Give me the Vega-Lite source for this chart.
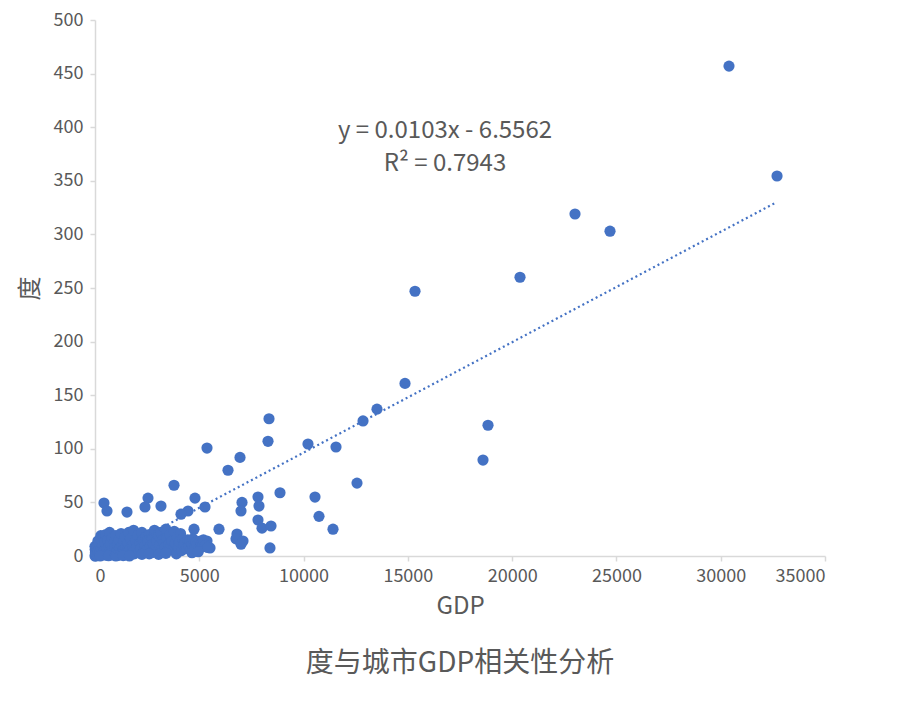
{
  "$schema": "https://vega.github.io/schema/vega-lite/v6.json",
  "width": 730,
  "height": 536,
  "autosize": {"type": "none"},
  "padding": {"left": 95, "top": 20, "right": 81, "bottom": 161},
  "background": "white",
  "config": {
    "view": {"stroke": null},
    "font": "Noto Sans CJK SC",
    "axis": {
      "grid": false,
      "domainColor": "#d9d9d9",
      "domainWidth": 1.5,
      "tickColor": "#d9d9d9",
      "tickWidth": 1.5,
      "tickSize": 5,
      "labelColor": "#595959",
      "labelFontSize": 18,
      "labelFont": "Noto Sans CJK SC",
      "titleColor": "#595959",
      "titleFontWeight": "normal",
      "titleFont": "Noto Sans CJK SC"
    }
  },
  "title": {
    "text": "度与城市GDP相关性分析",
    "orient": "bottom",
    "anchor": "middle",
    "fontSize": 28,
    "fontWeight": "normal",
    "color": "#595959",
    "offset": 32,
    "font": "Noto Sans CJK SC"
  },
  "datasets": {
    "points": [
      {"gdp": 30397, "du": 457}, {"gdp": 32700, "du": 354.5}, {"gdp": 23014, "du": 319}, {"gdp": 24692, "du": 303},
      {"gdp": 20377, "du": 260}, {"gdp": 15343, "du": 247}, {"gdp": 14863, "du": 161}, {"gdp": 13520, "du": 137},
      {"gdp": 12850, "du": 126}, {"gdp": 18843, "du": 122}, {"gdp": 18603, "du": 89.5}, {"gdp": 8343, "du": 128},
      {"gdp": 8295, "du": 107}, {"gdp": 10212, "du": 104.5}, {"gdp": 11555, "du": 101.7}, {"gdp": 5370, "du": 100.7},
      {"gdp": 6952, "du": 92}, {"gdp": 6377, "du": 80}, {"gdp": 3788, "du": 66}, {"gdp": 12562, "du": 68},
      {"gdp": 8870, "du": 59}, {"gdp": 4794, "du": 54}, {"gdp": 2541, "du": 54}, {"gdp": 10548, "du": 55},
      {"gdp": 7815, "du": 55}, {"gdp": 431, "du": 49.4}, {"gdp": 575, "du": 42}, {"gdp": 1534, "du": 41},
      {"gdp": 3164, "du": 46.6}, {"gdp": 2397, "du": 45.7}, {"gdp": 5274, "du": 45.7}, {"gdp": 7048, "du": 50},
      {"gdp": 7000, "du": 42}, {"gdp": 7863, "du": 46.6}, {"gdp": 4459, "du": 42}, {"gdp": 4123, "du": 39},
      {"gdp": 10740, "du": 37}, {"gdp": 7815, "du": 33.6}, {"gdp": 8007, "du": 26}, {"gdp": 8439, "du": 28},
      {"gdp": 11411, "du": 25}, {"gdp": 5945, "du": 25}, {"gdp": 4747, "du": 25}, {"gdp": 6808, "du": 20.5},
      {"gdp": 6760, "du": 16}, {"gdp": 7096, "du": 14}, {"gdp": 7000, "du": 11}, {"gdp": 8390, "du": 7.5},
      {"gdp": 5514, "du": 7.5}, {"gdp": 5370, "du": 14},
      {"gdp": 0, "du": 0}, {"gdp": 10, "du": 6}, {"gdp": 20, "du": 3}, {"gdp": 0, "du": 9},
      {"gdp": 30, "du": 0}, {"gdp": 60, "du": 4}, {"gdp": 100, "du": 10}, {"gdp": 140, "du": 14},
      {"gdp": 180, "du": 1}, {"gdp": 240, "du": 7}, {"gdp": 280, "du": 19}, {"gdp": 350, "du": 3},
      {"gdp": 440, "du": 9}, {"gdp": 480, "du": 15}, {"gdp": 540, "du": 2}, {"gdp": 580, "du": 11},
      {"gdp": 620, "du": 5}, {"gdp": 660, "du": 17}, {"gdp": 720, "du": 1}, {"gdp": 760, "du": 7},
      {"gdp": 800, "du": 13}, {"gdp": 870, "du": 3}, {"gdp": 950, "du": 16}, {"gdp": 1020, "du": 9},
      {"gdp": 1120, "du": 3}, {"gdp": 1200, "du": 12}, {"gdp": 1280, "du": 6}, {"gdp": 1360, "du": 17},
      {"gdp": 1440, "du": 9}, {"gdp": 1520, "du": 15}, {"gdp": 1600, "du": 4}, {"gdp": 1680, "du": 11},
      {"gdp": 1780, "du": 19}, {"gdp": 1880, "du": 2}, {"gdp": 1980, "du": 6}, {"gdp": 2080, "du": 14},
      {"gdp": 2180, "du": 18},
      {"gdp": 50, "du": 2}, {"gdp": 80, "du": 8}, {"gdp": 120, "du": 0.5}, {"gdp": 150, "du": 5},
      {"gdp": 200, "du": 12}, {"gdp": 220, "du": 3}, {"gdp": 260, "du": 16}, {"gdp": 300, "du": 7},
      {"gdp": 330, "du": 1}, {"gdp": 380, "du": 10}, {"gdp": 400, "du": 18}, {"gdp": 420, "du": 4},
      {"gdp": 460, "du": 13}, {"gdp": 500, "du": 0.8}, {"gdp": 520, "du": 20}, {"gdp": 560, "du": 6},
      {"gdp": 600, "du": 15}, {"gdp": 640, "du": 2}, {"gdp": 680, "du": 9}, {"gdp": 700, "du": 22},
      {"gdp": 740, "du": 11}, {"gdp": 780, "du": 3}, {"gdp": 820, "du": 17}, {"gdp": 850, "du": 6},
      {"gdp": 900, "du": 1}, {"gdp": 930, "du": 13}, {"gdp": 960, "du": 8}, {"gdp": 1000, "du": 19},
      {"gdp": 1040, "du": 4}, {"gdp": 1080, "du": 11}, {"gdp": 1100, "du": 0.5}, {"gdp": 1150, "du": 15},
      {"gdp": 1180, "du": 7}, {"gdp": 1220, "du": 2}, {"gdp": 1250, "du": 21}, {"gdp": 1300, "du": 10},
      {"gdp": 1340, "du": 5}, {"gdp": 1380, "du": 14}, {"gdp": 1420, "du": 1}, {"gdp": 1450, "du": 18},
      {"gdp": 1500, "du": 8}, {"gdp": 1540, "du": 3}, {"gdp": 1580, "du": 12}, {"gdp": 1620, "du": 22},
      {"gdp": 1660, "du": 6}, {"gdp": 1700, "du": 16}, {"gdp": 1750, "du": 2}, {"gdp": 1800, "du": 10},
      {"gdp": 1850, "du": 24}, {"gdp": 1900, "du": 5}, {"gdp": 1950, "du": 14}, {"gdp": 2000, "du": 8},
      {"gdp": 2050, "du": 19}, {"gdp": 2100, "du": 3}, {"gdp": 2150, "du": 12}, {"gdp": 2200, "du": 7},
      {"gdp": 2250, "du": 22}, {"gdp": 2300, "du": 15}, {"gdp": 2350, "du": 4}, {"gdp": 2400, "du": 10},
      {"gdp": 2450, "du": 18}, {"gdp": 2500, "du": 6}, {"gdp": 2550, "du": 13}, {"gdp": 2600, "du": 20},
      {"gdp": 2650, "du": 9}, {"gdp": 2700, "du": 3}, {"gdp": 2750, "du": 16}, {"gdp": 2800, "du": 11},
      {"gdp": 2850, "du": 24}, {"gdp": 2900, "du": 7}, {"gdp": 2950, "du": 14}, {"gdp": 3000, "du": 4},
      {"gdp": 3050, "du": 19}, {"gdp": 3100, "du": 10}, {"gdp": 3150, "du": 22}, {"gdp": 3200, "du": 6},
      {"gdp": 3250, "du": 15}, {"gdp": 3300, "du": 12}, {"gdp": 3350, "du": 8}, {"gdp": 3400, "du": 25},
      {"gdp": 3450, "du": 17}, {"gdp": 3500, "du": 5}, {"gdp": 3550, "du": 11}, {"gdp": 3600, "du": 20},
      {"gdp": 3650, "du": 9}, {"gdp": 3700, "du": 14}, {"gdp": 3750, "du": 6}, {"gdp": 3800, "du": 23},
      {"gdp": 3850, "du": 12}, {"gdp": 3900, "du": 2}, {"gdp": 3950, "du": 18}, {"gdp": 4000, "du": 8},
      {"gdp": 4050, "du": 13}, {"gdp": 4100, "du": 21}, {"gdp": 4150, "du": 5}, {"gdp": 4200, "du": 16},
      {"gdp": 4250, "du": 10}, {"gdp": 4300, "du": 12}, {"gdp": 4400, "du": 7}, {"gdp": 4450, "du": 15},
      {"gdp": 4500, "du": 9}, {"gdp": 4550, "du": 14}, {"gdp": 4600, "du": 6}, {"gdp": 4650, "du": 11},
      {"gdp": 4700, "du": 16}, {"gdp": 4800, "du": 8}, {"gdp": 4850, "du": 13}, {"gdp": 4900, "du": 10},
      {"gdp": 5000, "du": 7}, {"gdp": 5050, "du": 14}, {"gdp": 5100, "du": 11}, {"gdp": 5150, "du": 9},
      {"gdp": 5200, "du": 15}, {"gdp": 5300, "du": 10}, {"gdp": 5400, "du": 8},
      {"gdp": 250, "du": 0}, {"gdp": 650, "du": 0.3}, {"gdp": 1000, "du": 0}, {"gdp": 1350, "du": 0.4},
      {"gdp": 1650, "du": 0}, {"gdp": 2250, "du": 1.5}, {"gdp": 2600, "du": 2}, {"gdp": 3050, "du": 1.5},
      {"gdp": 3400, "du": 2.5}, {"gdp": 4650, "du": 3}, {"gdp": 4950, "du": 4}
    ],
    "trend": [
      {"gdp": 700, "du": 0.65},
      {"gdp": 32650, "du": 329.74}
    ],
    "labels": [
      {"gdp": 16781, "du": 396.5, "text": "y = 0.0103x - 6.5562"},
      {"gdp": 16781, "du": 365.7, "text": "R² = 0.7943"}
    ]
  },
  "layer": [
    {
      "data": {"name": "points"},
      "mark": {"type": "point", "filled": true, "shape": "circle", "size": 125, "color": "#4472C4", "opacity": 1},
      "encoding": {
        "x": {
          "field": "gdp", "type": "quantitative",
          "scale": {"domain": [0, 35000], "nice": false},
          "axis": {"values": [0, 5000, 10000, 15000, 20000, 25000, 30000, 35000], "format": "d", "title": "GDP", "titleFontSize": 24, "titlePadding": 9, "labelPadding": 6}
        },
        "y": {
          "field": "du", "type": "quantitative",
          "scale": {"domain": [0, 500], "nice": false},
          "axis": {"values": [0, 50, 100, 150, 200, 250, 300, 350, 400, 450, 500], "title": "度", "titleFontSize": 24, "titleX": -53, "titleY": 268, "labelPadding": 7}
        }
      }
    },
    {
      "data": {"name": "trend"},
      "mark": {"type": "line", "color": "#4472C4", "strokeWidth": 2.2, "strokeDash": [2, 3]},
      "encoding": {
        "x": {"field": "gdp", "type": "quantitative"},
        "y": {"field": "du", "type": "quantitative"}
      }
    },
    {
      "data": {"name": "labels"},
      "mark": {"type": "text", "fontSize": 24, "color": "#595959", "align": "center", "baseline": "middle", "font": "Noto Sans CJK SC"},
      "encoding": {
        "x": {"field": "gdp", "type": "quantitative"},
        "y": {"field": "du", "type": "quantitative"},
        "text": {"field": "text"}
      }
    }
  ]
}
